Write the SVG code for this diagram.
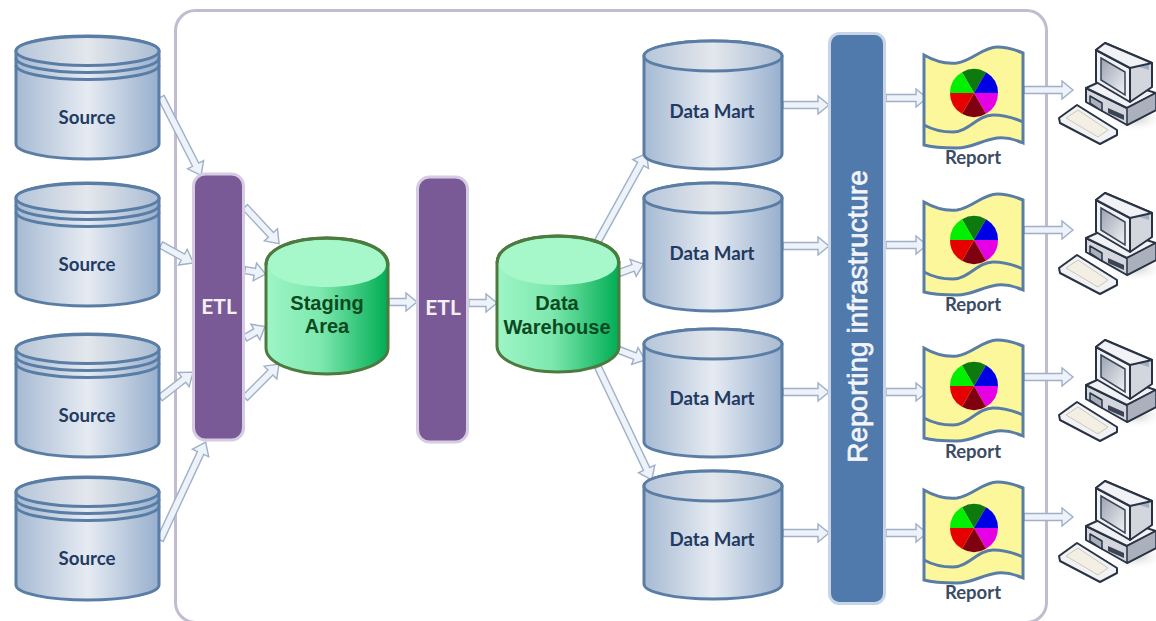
<svg xmlns="http://www.w3.org/2000/svg" xmlns:xlink="http://www.w3.org/1999/xlink" width="1156" height="621" viewBox="0 0 1156 621">
<style>
.frame{fill:#fff;stroke:#c3bcd0;stroke-width:3}
.arrow{fill:#eef2f9;stroke:#9fb0c8;stroke-width:1.400;stroke-linejoin:miter}
.blue{fill:url(#blueBody);stroke:#5a7da5;stroke-width:3}
.blueTop{fill:url(#blueTop);stroke:#5a7da5;stroke-width:3}
.ring{fill:none;stroke:#5a7da5;stroke-width:3}
.green{fill:url(#greenBody);stroke:#4f7a3f;stroke-width:3}
.greenTop{fill:#a6f7ca;stroke:none}
.etl{fill:#7a5a96;stroke:#d6cce2;stroke-width:3}
.infra{fill:#5079ac;stroke:#c8d5e6;stroke-width:3}
.flag{fill:#fdf79c;stroke:#5a7da5;stroke-width:3}
.wave{fill:none;stroke:#5a7da5;stroke-width:3}
.lbl{font-family:"Lato","Liberation Sans",sans-serif;font-weight:700;font-size:18.700px;fill:#223a62;text-anchor:middle}
.lblw{font-family:"Lato","Liberation Sans",sans-serif;font-weight:700;font-size:21px;fill:#f4f0f8;text-anchor:middle}
.lblg{font-family:"Liberation Sans",Arial,sans-serif;font-weight:700;font-size:20px;fill:#0b4a20;text-anchor:middle}
.lblr{font-family:"Liberation Sans",Arial,sans-serif;font-weight:400;font-size:28px;fill:#f2f5fa;text-anchor:middle;stroke:#f2f5fa;stroke-width:.7}
.rep{font-family:"Lato","Liberation Sans",sans-serif;font-weight:700;font-size:18.500px;fill:#3b4c62;text-anchor:middle}
.pc-l{fill:#f1f2f5;stroke:#2a3344;stroke-width:2;stroke-linejoin:round}
.pc-m{fill:#d3d7dd;stroke:#2a3344;stroke-width:2;stroke-linejoin:round}
.pc-d{fill:#aab1bc;stroke:#2a3344;stroke-width:1.500;stroke-linejoin:round}
</style>
<defs>
<linearGradient id="blueBody" x1="0" x2="1" y1="0" y2="0"><stop offset="0" stop-color="#a6bad3"/><stop offset=".5" stop-color="#e6ebf2"/><stop offset="1" stop-color="#97afcd"/></linearGradient>
<linearGradient id="blueTop" x1="0" x2="1" y1="0" y2="0"><stop offset="0" stop-color="#b5c5d9"/><stop offset=".5" stop-color="#e4e7ec"/><stop offset="1" stop-color="#a9bcd3"/></linearGradient>
<linearGradient id="greenBody" x1="0" x2="1" y1="0" y2="0"><stop offset="0" stop-color="#9ef5c6"/><stop offset=".45" stop-color="#7de8ae"/><stop offset="1" stop-color="#00ad54"/></linearGradient>
<linearGradient id="pcScreen" x1="0" x2="1" y1="0" y2="1"><stop offset="0" stop-color="#9aa3b2"/><stop offset="1" stop-color="#f0f2f5"/></linearGradient>
<radialGradient id="pcShadow"><stop offset="0" stop-color="#c8c8c8"/><stop offset="1" stop-color="#fff" stop-opacity="0"/></radialGradient>
<g id="sourceShape">
<path class="blue" d="M0,15 A71.5,15 0 0 1 143,15 V108 A71.5,15 0 0 1 0,108 Z"/>
<ellipse class="blueTop" cx="71.5" cy="15" rx="71.5" ry="14.500"/>
<path class="ring" d="M0,22 A71.500,14.500 0 0 0 143,22 M0,29 A71.500,14.500 0 0 0 143,29"/>
</g>
<g id="martShape">
<path class="blue" d="M0,15 A69,15 0 0 1 138,15 V113 A69,15 0 0 1 0,113 Z"/>
<ellipse class="blueTop" cx="69" cy="15" rx="69" ry="15"/>
</g>
<g id="cylShape">
<path class="green" d="M0,27 C0,10 28,0 61,0 C94,0 122,10 122,27 V110 C122,125 94,136 61,136 C28,136 0,125 0,110 Z"/>
<path class="greenTop" d="M2,27 C2,11 29,2 61,2 C93,2 120,11 120,27 C120,40 93,49 61,49 C29,49 2,40 2,27 Z"/>
<path fill="none" stroke="#4f7a3f" stroke-width="3" d="M0,27 C0,10 28,0 61,0 C94,0 122,10 122,27"/>
</g>
<g id="reportShape">
<path class="flag" d="M924,55 C936,62 946,64 957,63 C972,61 983,47 997,47 C1008,47 1016,50 1023,53 V143 C1014,139 1006,137 997,138 C982,140 972,148 957,148 C945,148 934,148 924,145 Z"/>
<path class="wave" d="M924,125 C933,130 943,132 953,132 C968,132 978,115 993,115 C1005,115 1014,118 1023,122"/>
<path fill="#0d7a0d" d="M974,93 L962,72.200 A24,24 0 0 1 986,72.200 Z"/>
<path fill="#0000e6" d="M974,93 L986,72.200 A24,24 0 0 1 998,93 Z"/>
<path fill="#e600e6" d="M974,93 L998,93 A24,24 0 0 1 986,113.800 Z"/>
<path fill="#800010" d="M974,93 L986,113.800 A24,24 0 0 1 962,113.800 Z"/>
<path fill="#e60000" d="M974,93 L962,113.800 A24,24 0 0 1 950,93 Z"/>
<path fill="#00f000" d="M974,93 L950,93 A24,24 0 0 1 962,72.200 Z"/>
</g>
<g id="pcShape">
<ellipse cx="1135" cy="118" rx="30" ry="14" fill="url(#pcShadow)"/>
<polygon class="pc-m" points="1086,88 1127,108 1156,93 1156,110 1127,125 1086,102"/>
<polygon class="pc-l" points="1086,88 1108,78 1156,93 1127,108"/>
<polygon class="pc-d" points="1127,108 1156,93 1156,110 1127,125"/>
<polygon class="pc-d" points="1090,96 1102,103 1102,111 1090,103"/>
<polygon fill="#3a4454" points="1108,108 1124,115 1124,120 1108,113"/>
<polygon class="pc-m" points="1105,43 1152,63 1152,87 1130,102 1130,68 1096,50"/>
<polygon fill="#9fb0c6" points="1124,53 1149,63 1149,70 1136,66"/>
<polygon class="pc-l" points="1096,50 1130,68 1130,102 1096,82"/>
<polygon class="pc-l" points="1096,50 1105,43 1152,63 1130,68"/>
<polygon fill="url(#pcScreen)" stroke="#3a4454" stroke-width="1.500" points="1101,58 1125,72 1125,95 1101,80"/>
<polygon class="pc-l" points="1059,118 1077,105 1117,130 1117,135 1100,144 1060,123"/>
<polygon fill="#f3efe4" stroke="#c4bda8" stroke-width=".8" points="1066,118 1078,110 1108,130 1098,137"/>
</g>
</defs>
<rect width="1156" height="621" fill="#fff"/>
<rect id="frame" class="frame" x="175.500" y="10.500" width="871" height="612" rx="20"/>
<g id="connectors">
<path class="arrow" transform="translate(161,97) rotate(62.900)" d="M0,-3.500 H76 V-9 L88,0 L76,9 V3.500 H0 Z"/>
<path class="arrow" transform="translate(161,245) rotate(29)" d="M0,-3.500 H25 V-9 L37,0 L25,9 V3.500 H0 Z"/>
<path class="arrow" transform="translate(160,398) rotate(-38)" d="M0,-3.500 H30 V-9 L42,0 L30,9 V3.500 H0 Z"/>
<path class="arrow" transform="translate(160,540) rotate(-65)" d="M0,-3.500 H96 V-9 L108,0 L96,9 V3.500 H0 Z"/>
<path class="arrow" transform="translate(245,207) rotate(47)" d="M0,-3.500 H38 V-9 L50,0 L38,9 V3.500 H0 Z"/>
<path class="arrow" transform="translate(245,270) rotate(11)" d="M0,-3.500 H10 V-9 L21,0 L10,9 V3.500 H0 Z"/>
<path class="arrow" transform="translate(245,338) rotate(-30)" d="M0,-3.500 H12 V-9 L23,0 L12,9 V3.500 H0 Z"/>
<path class="arrow" transform="translate(245,398) rotate(-45)" d="M0,-3.500 H36 V-9 L48,0 L36,9 V3.500 H0 Z"/>
<path class="arrow" transform="translate(389,302)" d="M0,-3.500 H17 V-9 L28,0 L17,9 V3.500 H0 Z"/>
<path class="arrow" transform="translate(469,303)" d="M0,-3.500 H17 V-9 L28,0 L17,9 V3.500 H0 Z"/>
<path class="arrow" transform="translate(598,241) rotate(-61)" d="M0,-3.500 H88 V-9 L100,0 L88,9 V3.500 H0 Z"/>
<path class="arrow" transform="translate(619,273) rotate(-20)" d="M0,-3.500 H15 V-9 L26,0 L15,9 V3.500 H0 Z"/>
<path class="arrow" transform="translate(619,350) rotate(21)" d="M0,-3.500 H17 V-9 L28,0 L17,9 V3.500 H0 Z"/>
<path class="arrow" transform="translate(598,367) rotate(64.500)" d="M0,-3.500 H113 V-9 L125,0 L113,9 V3.500 H0 Z"/>
<path class="arrow" transform="translate(783,105)" d="M0,-3.500 H35 V-9 L46,0 L35,9 V3.500 H0 Z"/>
<path class="arrow" transform="translate(783,246)" d="M0,-3.500 H35 V-9 L46,0 L35,9 V3.500 H0 Z"/>
<path class="arrow" transform="translate(783,392)" d="M0,-3.500 H35 V-9 L46,0 L35,9 V3.500 H0 Z"/>
<path class="arrow" transform="translate(783,533)" d="M0,-3.500 H35 V-9 L46,0 L35,9 V3.500 H0 Z"/>
<path class="arrow" transform="translate(886,98)" d="M0,-3.500 H30 V-9 L41,0 L30,9 V3.500 H0 Z"/>
<path class="arrow" transform="translate(886,245)" d="M0,-3.500 H30 V-9 L41,0 L30,9 V3.500 H0 Z"/>
<path class="arrow" transform="translate(886,392)" d="M0,-3.500 H30 V-9 L41,0 L30,9 V3.500 H0 Z"/>
<path class="arrow" transform="translate(886,533)" d="M0,-3.500 H30 V-9 L41,0 L30,9 V3.500 H0 Z"/>
<path class="arrow" transform="translate(1024,90)" d="M0,-3.500 H38 V-9 L49,0 L38,9 V3.500 H0 Z"/>
<path class="arrow" transform="translate(1024,230)" d="M0,-3.500 H38 V-9 L49,0 L38,9 V3.500 H0 Z"/>
<path class="arrow" transform="translate(1024,377)" d="M0,-3.500 H38 V-9 L49,0 L38,9 V3.500 H0 Z"/>
<path class="arrow" transform="translate(1024,517)" d="M0,-3.500 H38 V-9 L49,0 L38,9 V3.500 H0 Z"/>
</g>
<g id="source1"><use xlink:href="#sourceShape" transform="translate(16,36)"/><text class="lbl" x="87" y="124">Source</text></g>
<g id="source2"><use xlink:href="#sourceShape" transform="translate(16,183)"/><text class="lbl" x="87" y="271">Source</text></g>
<g id="source3"><use xlink:href="#sourceShape" transform="translate(16,334)"/><text class="lbl" x="87" y="422">Source</text></g>
<g id="source4"><use xlink:href="#sourceShape" transform="translate(16,477)"/><text class="lbl" x="87" y="565">Source</text></g>
<g id="etl1"><rect class="etl" x="193.500" y="174" width="50" height="266" rx="12"/><text class="lblw" x="219" y="314">ETL</text></g>
<g id="staging"><use xlink:href="#cylShape" transform="translate(266,238)"/><text class="lblg" x="327" y="310">Staging</text><text class="lblg" x="327" y="333">Area</text></g>
<g id="etl2"><rect class="etl" x="417.500" y="177" width="50" height="265" rx="12"/><text class="lblw" x="443" y="315">ETL</text></g>
<g id="warehouse"><use xlink:href="#cylShape" transform="translate(497,236)"/><text class="lblg" x="557" y="310">Data</text><text class="lblg" x="557" y="334">Warehouse</text></g>
<g id="mart1"><use xlink:href="#martShape" transform="translate(644,41)"/><text class="lbl" x="712" y="118">Data Mart</text></g>
<g id="mart2"><use xlink:href="#martShape" transform="translate(644,183)"/><text class="lbl" x="712" y="260">Data Mart</text></g>
<g id="mart3"><use xlink:href="#martShape" transform="translate(644,329)"/><text class="lbl" x="712" y="405">Data Mart</text></g>
<g id="mart4"><use xlink:href="#martShape" transform="translate(644,471)"/><text class="lbl" x="712" y="546">Data Mart</text></g>
<g id="infrastructure"><rect class="infra" x="829.500" y="33.500" width="55" height="570" rx="10"/><text class="lblr" transform="translate(867,316.500) rotate(-90)">Reporting infrastructure</text></g>
<g id="report1"><use xlink:href="#reportShape"/><text class="rep" x="973" y="164">Report</text></g>
<g id="report2"><use xlink:href="#reportShape" transform="translate(0,147)"/><text class="rep" x="973" y="311">Report</text></g>
<g id="report3"><use xlink:href="#reportShape" transform="translate(0,293)"/><text class="rep" x="973" y="458">Report</text></g>
<g id="report4"><use xlink:href="#reportShape" transform="translate(0,435)"/><text class="rep" x="973" y="599">Report</text></g>
<g id="pc1"><use xlink:href="#pcShape"/></g>
<g id="pc2"><use xlink:href="#pcShape" transform="translate(0,150)"/></g>
<g id="pc3"><use xlink:href="#pcShape" transform="translate(0,297)"/></g>
<g id="pc4"><use xlink:href="#pcShape" transform="translate(0,438)"/></g>
</svg>
